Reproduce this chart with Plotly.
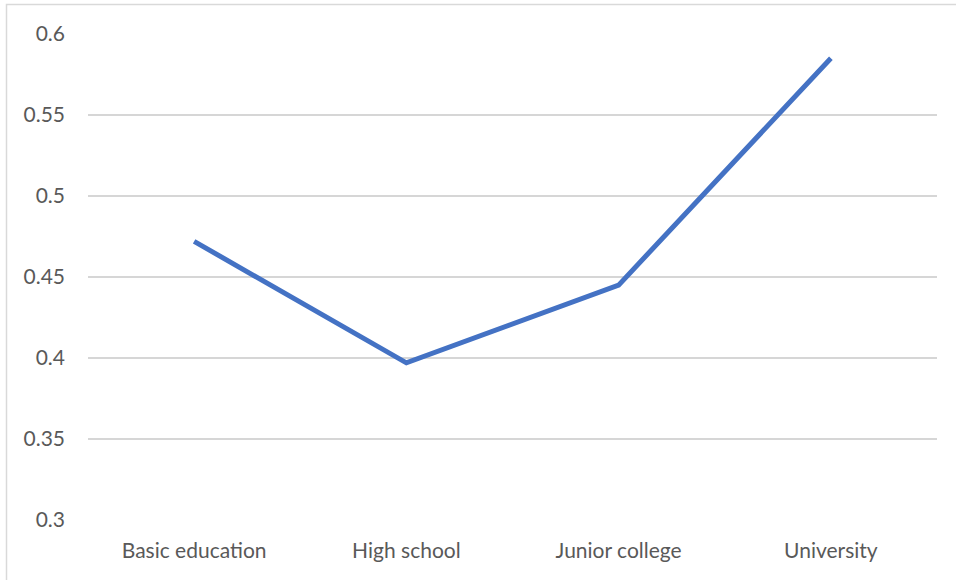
import plotly.graph_objects as go

categories = ["Basic education", "High school", "Junior college", "University"]
values = [0.472, 0.397, 0.445, 0.585]
y_ticks = [0.3, 0.35, 0.4, 0.45, 0.5, 0.55, 0.6]
y_tick_labels = ["0.3", "0.35", "0.4", "0.45", "0.5", "0.55", "0.6"]

W, H = 956, 580
L, R, T, B = 88, 19, 34, 60
pw, ph = W - L - R, H - T - B

fig = go.Figure(go.Scatter(
    x=categories, y=values, mode="lines",
    line=dict(color="#4472C4", width=5),
    hoverinfo="skip",
))

fig.update_layout(
    width=W, height=H,
    margin=dict(l=L, r=R, t=T, b=B, autoexpand=False),
    paper_bgcolor="white", plot_bgcolor="white",
    showlegend=False,
    font=dict(family="Lato", color="#595959", size=21),
    xaxis=dict(range=[-0.5, 3.5], showgrid=False, zeroline=False, showline=False, ticks="",
               ticklabelstandoff=16, tickfont=dict(size=21)),
    yaxis=dict(range=[0.3, 0.6], tickvals=y_ticks, ticktext=y_tick_labels,
               showgrid=True, gridcolor="#D6D6D6", gridwidth=1.5,
               zeroline=False, showline=False, ticks="",
               ticklabelstandoff=22, tickfont=dict(size=21)),
    shapes=[dict(type="rect", xref="paper", yref="paper",
                 x0=(6.5 - L) / pw, x1=(W + 10 - L) / pw,
                 y0=-(H + 10 - T - ph) / ph, y1=1 + (T - 4.5) / ph,
                 line=dict(color="#D9D9D9", width=1.5), layer="below")],
)

fig.write_html("out.html")
